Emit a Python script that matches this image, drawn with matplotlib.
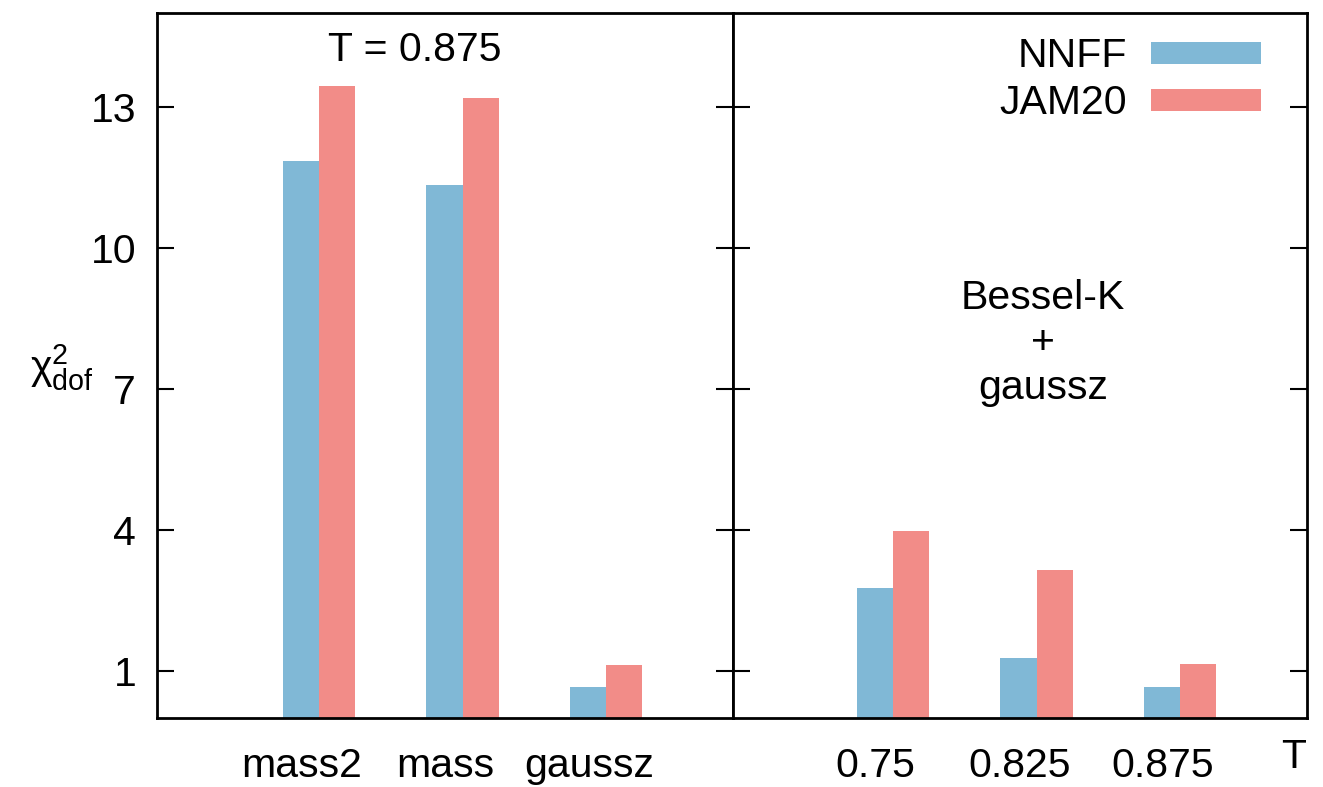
import numpy as np
from matplotlib import pyplot as plt
from matplotlib.patches import Rectangle

plt.rcParams["font.family"] = ["Liberation Sans", "DejaVu Sans"]
plt.rcParams["font.size"] = 29.5

# left panel: different fits at T = 0.875
fits = ["mass2", "mass", "gaussz"]
fits_nnff = [11.85, 11.34, 0.66]
fits_jam = [13.45, 13.19, 1.13]

# right panel: Bessel-K + gaussz vs T
temps = ["0.75", "0.825", "0.875"]
temps_nnff = [2.77, 1.28, 0.66]
temps_jam = [3.98, 3.15, 1.15]

yticks = [1, 4, 7, 10, 13]

blue = "#80b8d6"
red = "#f28c88"
w = 0.254

fig = plt.figure(figsize=(13.23, 7.87), dpi=100)
ax1 = fig.add_axes([157 / 1323, 1 - 718 / 787, 576 / 1323, 705 / 787])
ax2 = fig.add_axes([733 / 1323, 1 - 718 / 787, 574 / 1323, 705 / 787])

for ax, labels, nnff, jam in [(ax1, fits, fits_nnff, fits_jam), (ax2, temps, temps_nnff, temps_jam)]:
    x = np.arange(len(labels))
    ax.bar(x - w / 2, nnff, w, color=blue, linewidth=0)
    ax.bar(x + w / 2, jam, w, color=red, linewidth=0)
    ax.set_ylim(0, 15)
    ax.set_yticks(yticks)
    ax.set_xticks(x - 0.12)
    ax.set_xticklabels(labels)
    ax.tick_params(axis="x", length=0, pad=21)
    ax.tick_params(axis="y", direction="in", length=12, width=1.5, pad=15, right=True)
    for s in ax.spines.values():
        s.set_linewidth(2)

ax1.set_xlim(-1.129, 2.885)
ax2.set_xlim(-1.115, 2.885)
ax2.tick_params(axis="y", labelleft=False)

ax1.text(0.67, 14.21, "T = 0.875", ha="center", va="center")
ax2.text(1.045, 7.98, "Bessel-K\n+\ngaussz", ha="center", va="center", linespacing=1.22)

# legend drawn by hand: text on the left, box on the right
for yb, yt, col, name in [(0.928, 0.939, blue, "NNFF"), (0.861, 0.873, red, "JAM20")]:
    ax2.add_patch(Rectangle((0.728, yb), 0.192, 0.0312, transform=ax2.transAxes,
                            color=col, linewidth=0, clip_on=False))
    ax2.text(0.686, yt, name, transform=ax2.transAxes, ha="right", va="center")

fig.text(62 / 1323, 1 - 368 / 787, r"$\mathregular{χ^2_{dof}}$", ha="center", va="center")
fig.text(1294 / 1323, 1 - 757 / 787, "T", ha="center", va="center")

fig.savefig("out.png")
